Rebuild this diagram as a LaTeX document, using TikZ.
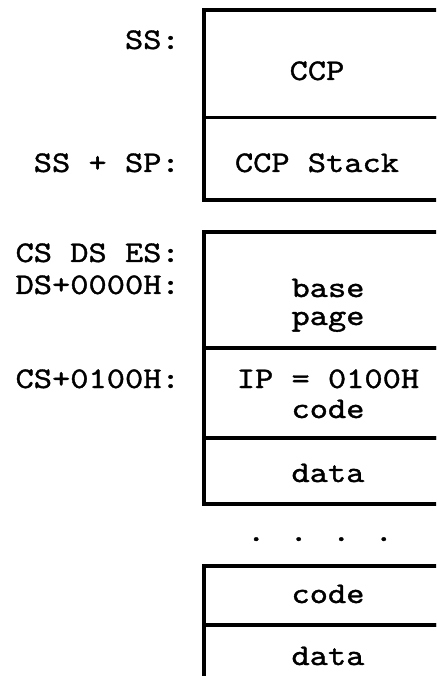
\documentclass[tikz,border=0pt]{standalone}
\usepackage{fontspec}
\usepackage{tikz}
\usetikzlibrary{positioning}

\newfontfamily\typefont[FakeStretch=1.16,FakeBold=1.2]{lmmono10-regular.otf}

\tikzset{
  cell/.style={line width=2.4pt},
  memtext/.style={anchor=base,inner sep=0pt,font=\typefont\fontsize{21.3}{25}\selectfont},
  addrtext/.style={memtext,anchor=base east}
}

\begin{document}
\begin{tikzpicture}
	\clip (0,0) rectangle (10.9,-16.9);

	% segments of memory
	\foreach \ya/\yb in {-0.25/-2.94, -2.94/-5.0, -5.8/-8.7, -8.7/-10.95, -10.95/-12.6, -14.15/-15.625, -15.625/-17.4}
	{
	  \draw[cell] (5.1,\ya) rectangle (11.5,\yb);
	}

	% addresses
	\node[addrtext] (ss) at (4.5,-1.225) {SS:};
	\node[addrtext] (sssp) at (4.5,-4.3) {SS + SP:};
	\node[addrtext] (csdses) at (4.5,-6.55) {CS DS ES:};
	\node[addrtext] (ds0) at (4.5,-7.35) {DS+0000H:};
	\node[addrtext] (cs100) at (4.5,-9.7) {CS+0100H:};

	% contents
	\node[memtext] (ccp) at (7.925,-2.0) {CCP};
	\node[memtext] (stack) at (7.925,-4.3) {CCP Stack};
	\node[memtext] (base) at (8.2,-7.425) {base};
	\node[memtext] (page) at (8.2,-8.125) {page};
	\node[memtext] (ip) at (8.2,-9.7) {IP = 0100H};
	\node[memtext] (code) at (8.2,-10.45) {code};
	\node[memtext] (data) at (8.2,-12.05) {data};
	\node[memtext] (dots) at (8.0,-13.525) {. . . .};
	\node[memtext] (codeb) at (8.2,-15.075) {code};
	\node[memtext] (datab) at (8.2,-16.625) {data};
\end{tikzpicture}
\end{document}
